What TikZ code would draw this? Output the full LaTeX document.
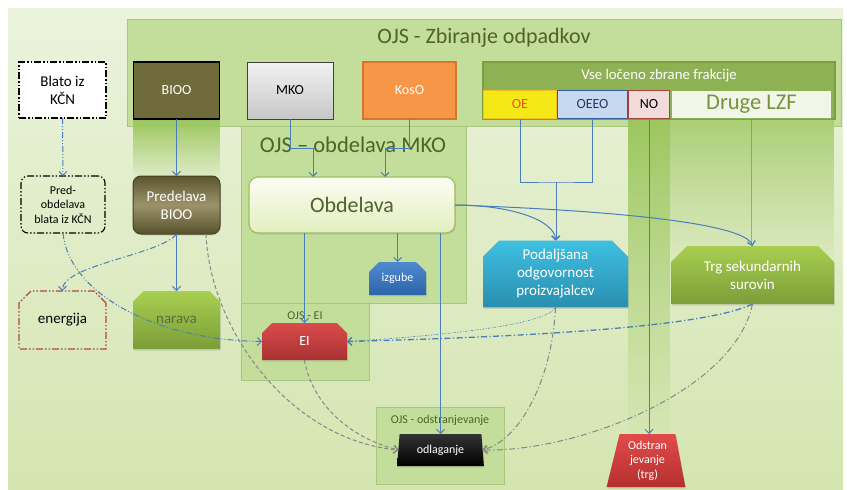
\documentclass[tikz,border=0pt]{standalone}
\usepackage{fontspec}
\setmainfont{Carlito}
\usetikzlibrary{arrows.meta,shapes.misc,shapes.geometric,fadings,calc,shadows}
\definecolor{bgtop}{HTML}{EBF3DC}
\definecolor{bgbot}{HTML}{D4E5B0}
\definecolor{ojsfill}{HTML}{C3DE9A}
\definecolor{ojsdraw}{HTML}{A8C77C}
\definecolor{ojstext}{HTML}{4F6228}
\definecolor{colgreen}{HTML}{9CC75E}
\definecolor{blueline}{HTML}{4A7EBB}
\definecolor{grayline}{HTML}{868686}
\definecolor{biooc}{HTML}{6F6B3A}
\definecolor{kosoc}{HTML}{F79646}
\definecolor{kosod}{HTML}{D7742F}
\definecolor{hdrgreen}{HTML}{8EB153}
\definecolor{hdrdraw}{HTML}{7E9E46}
\definecolor{oefill}{HTML}{F4E916}
\definecolor{oedraw}{HTML}{F6C21A}
\definecolor{oetext}{HTML}{E8581A}
\definecolor{oeeofill}{HTML}{C6D9F1}
\definecolor{oeeodraw}{HTML}{2F5F9E}
\definecolor{oeeotext}{HTML}{1F3B66}
\definecolor{nofill}{HTML}{F2DCDB}
\definecolor{nodraw}{HTML}{A8403E}
\definecolor{drugefill}{HTML}{F1F6E8}
\definecolor{drugetext}{HTML}{77933C}
\definecolor{predtop}{HTML}{5B572E}
\definecolor{predmid}{HTML}{9C926A}
\definecolor{predbot}{HTML}{57522C}
\definecolor{obdtop}{HTML}{FCFDF3}
\definecolor{obdbot}{HTML}{E3EEBF}
\definecolor{obddraw}{HTML}{9DBF5E}
\definecolor{izgtop}{HTML}{4F8AD0}
\definecolor{izgbot}{HTML}{2C64A8}
\definecolor{eitop}{HTML}{DA4B4B}
\definecolor{eibot}{HTML}{A93232}
\definecolor{podtop}{HTML}{3EC0E2}
\definecolor{podbot}{HTML}{2A8EAF}
\definecolor{trgtop}{HTML}{A8CF50}
\definecolor{trgbot}{HTML}{7C9D38}
\definecolor{naravatext}{HTML}{5C6B3C}
\definecolor{energd}{HTML}{B5443F}
\definecolor{odstop}{HTML}{E24B4B}
\definecolor{odsbot}{HTML}{B52F2F}
\tikzfading[name=fadedown, top color=transparent!0, bottom color=transparent!100]
\begin{document}
\begin{tikzpicture}[x=1pt,y=1pt,
  >={Straight Barb[length=4pt,width=8pt]},
  every node/.style={outer sep=0pt,inner sep=1pt,align=center},
  ojsbox/.style={rectangle,fill=ojsfill,draw=ojsdraw,line width=0.7pt},
  ojstitle/.style={text=ojstext},
  topbox/.style={rectangle,minimum width=86pt,minimum height=57pt},
  shd/.style={drop shadow={shadow xshift=0.8pt,shadow yshift=-1.5pt,opacity=0.22}},
  snip/.style={chamfered rectangle,chamfered rectangle corners={north west,north east},chamfered rectangle xsep=6pt,chamfered rectangle ysep=6pt},
  bline/.style={draw=blueline,line width=1pt},
  barrow/.style={bline,->},
  ddot/.style={draw=blueline,line width=1pt,dash pattern=on 6pt off 2pt on 1pt off 2pt on 1pt off 2pt},
  dashdot/.style={draw=blueline,line width=1pt,dash pattern=on 6pt off 2.5pt on 1.2pt off 2.5pt},
  gdash/.style={draw=grayline,line width=1pt,dash pattern=on 4pt off 2.5pt},
  gdashdot/.style={draw=grayline,line width=1pt,dash pattern=on 6pt off 2.5pt on 1.2pt off 2.5pt},
  ddborder/.style={line width=1.1pt,dash pattern=on 7pt off 2pt on 1.5pt off 2pt on 1.5pt off 2pt},
  f12/.style={font=\fontsize{12}{14.5}\selectfont},
  f14/.style={font=\fontsize{14}{17}\selectfont},
  f15/.style={font=\fontsize{15}{18}\selectfont},
  f22/.style={font=\fontsize{22}{26}\selectfont}]
\path[use as bounding box] (0,0) rectangle (847,-490);
\fill[white] (0,0) rectangle (847,-490);
\node[rectangle,top color=bgtop,bottom color=bgbot,minimum width=835pt,minimum height=482pt] (bg) at (425.5,-249) {};

% containers
\node[ojsbox,minimum width=714pt,minimum height=107pt] (zbir) at (484,-72.5) {};
\node[ojstitle,font=\fontsize{22}{26}\selectfont] (zbirT) at (484,-38) {OJS - Zbiranje odpadkov};
\fill[colgreen,path fading=fadedown] (133,-119) rectangle (220,-180);
\fill[colgreen,path fading=fadedown] (628,-119) rectangle (670,-440);
\fill[colgreen!85,path fading=fadedown] (670,-119) rectangle (834,-270);
\node[ojsbox,minimum width=225pt,minimum height=177pt] (obdbox) at (353.5,-214.5) {};
\node[ojstitle,font=\fontsize{22.5}{26}\selectfont] (obdT) at (353,-145) {OJS – obdelava MKO};
\node[ojsbox,minimum width=128pt,minimum height=77pt] (eibox) at (305,-341.5) {};
\node[ojstitle,f12] (eiT) at (305,-316) {OJS - EI};
\node[ojsbox,minimum width=128pt,minimum height=77pt] (odbox) at (440,-445.5) {};
\node[ojstitle,f12] (odT) at (440,-420) {OJS - odstranjevanje};

% top row
\node[topbox,fill=biooc,draw=black,line width=1.6pt,text=white,f14] (bioo) at (176.5,-90.5) {BIOO};
\node[topbox,top color=white!95!black,bottom color=black!22,draw=black!75,line width=0.8pt,f14] (mko) at (290,-90.5) {MKO};
\node[topbox,minimum width=93pt,fill=kosoc,draw=kosod,line width=1.2pt,text=white,f14] (koso) at (409.5,-90.5) {KosO};
\node[rectangle,fill=hdrgreen,draw=hdrdraw,line width=1.2pt,minimum width=352pt,minimum height=57pt] (vse) at (659,-90.5) {};
\node[text=white,font=\fontsize{14.8}{17}\selectfont] (vseT) at (659,-76) {Vse ločeno zbrane frakcije};
\node[rectangle,fill=oefill,draw=oedraw,line width=1.6pt,minimum width=73pt,minimum height=28pt,text=oetext,f14] (oe) at (520,-104.5) {OE};
\node[rectangle,fill=oeeofill,draw=oeeodraw,line width=1.6pt,minimum width=70pt,minimum height=28pt,text=oeeotext,f14] (oeeo) at (592.5,-104.5) {OEEO};
\node[rectangle,fill=nofill,draw=nodraw,line width=1.6pt,minimum width=41pt,minimum height=28pt,f14] (no) at (649,-104.5) {NO};
\node[rectangle,fill=drugefill,draw=hdrgreen,line width=1.6pt,minimum width=160pt,minimum height=28pt,text=drugetext,font=\fontsize{22.5}{26}\selectfont] (druge) at (751.5,-104.5) {Druge LZF};

% left column
\node[rectangle,fill=white,draw=black,ddborder,minimum width=87pt,minimum height=56pt,f15] (blato) at (62.5,-90) {Blato iz\\KČN};
\node[rectangle,rounded corners=7pt,draw=black,ddborder,minimum width=84pt,minimum height=57pt,f12] (pred) at (63,-204.5) {Pred-\\obdelava\\blata iz KČN};
\node[snip,draw=energd,ddborder,minimum width=87pt,minimum height=58pt,f15] (energ) at (62.5,-320) {energija};
\node[snip,shd,top color=trgtop,bottom color=trgbot,minimum width=87pt,minimum height=58pt,text=naravatext,f15] (narava) at (176.5,-320) {narava};
\node[rectangle,shd,rounded corners=8pt,top color=predtop,bottom color=predbot,middle color=predmid,draw=predbot!80!black,line width=1pt,minimum width=87pt,minimum height=58pt,text=white,f15] (predel) at (176.5,-205) {Predelava\\BIOO};

% centre
\node[rectangle,shd,rounded corners=9pt,top color=obdtop,bottom color=obdbot,draw=obddraw,line width=1.2pt,minimum width=206pt,minimum height=56pt,text=ojstext,f22] (obd) at (352,-205) {Obdelava};
\node[snip,shd,chamfered rectangle xsep=5pt,chamfered rectangle ysep=5pt,top color=izgtop,bottom color=izgbot,minimum width=57pt,minimum height=33pt,text=white,f12] (izg) at (397.5,-278.5) {izgube};
\node[snip,shd,chamfered rectangle xsep=5pt,chamfered rectangle ysep=5pt,top color=eitop,bottom color=eibot,minimum width=85pt,minimum height=37pt,text=white,f14] (ei) at (304.5,-341.5) {EI};
\node[snip,shd,chamfered rectangle xsep=8pt,chamfered rectangle ysep=8pt,top color=podtop,bottom color=podbot,minimum width=145pt,minimum height=58pt,text=white,f15] (pod) at (555.5,-274) {Podaljšana\\odgovornost\\proizvajalcev};
\node[snip,shd,chamfered rectangle xsep=8pt,chamfered rectangle ysep=8pt,top color=trgtop,bottom color=trgbot,minimum width=163pt,minimum height=58pt,text=white,f15] (trg) at (752.5,-275) {Trg sekundarnih\\surovin};
\node[trapezium,shd,trapezium left angle=83,trapezium right angle=83,trapezium stretches=true,top color=black!80,bottom color=black,minimum width=87pt,minimum height=32pt,text=white,f12] (odl) at (440.5,-450) {odlaganje};
\node[trapezium,shd,trapezium left angle=77,trapezium right angle=80,trapezium stretches=true,top color=odstop,bottom color=odsbot,minimum width=79pt,minimum height=53pt,text=white,f12] (odst) at (647.5,-460.5) {Odstran\\jevanje\\(trg)};

% connectors
\draw[barrow] (bioo.south) -- (predel.north);
\draw[barrow] (predel.south) -- (narava.north);
\coordinate (mk1) at (313,-148);
\draw[barrow] (mko.south) |- (mk1) -- (mk1 |- obd.north);
\coordinate (ko1) at (385,-148);
\draw[barrow] (koso.south) |- (ko1) -- (ko1 |- obd.north);
\coordinate (oj) at (556,-182);
\draw[bline] (oe.south) |- (oj) -| (oeeo.south);
\draw[barrow] (oj) -- (oj |- pod.north);
\draw[barrow] (obd.east) .. controls (510,-205) and (555,-220) .. (pod.north);
\draw[barrow] (obd.east) .. controls (600,-210) and (745,-222) .. (trg.north);
\draw[barrow] (obd.south -| ei.north) -- (ei.north);
\draw[barrow] (obd.south -| izg.north) -- (izg.north);
\draw[barrow] (obd.south -| odl.north) -- (odl.north);
\draw[barrow] (no.south) -- (no.south |- odst.north);
\draw[barrow,draw opacity=0.55] (druge.south) -- (druge.south |- trg.north);

\draw[ddot,->] (blato.south) -- (pred.north);
\draw[ddot,->] (pred.south) .. controls (68,-290) and (150,-340) .. (ei.west);
\draw[dashdot,->] (predel.south) .. controls (160,-255) and (62,-265) .. (energ.north);
\draw[gdash,->] ($(predel.south east)+(-14,0)$) .. controls (210,-330) and (290,-440) .. (odl.west);
\draw[gdash,->] (ei.south) .. controls (310,-395) and (340,-435) .. (odl.west);
\draw[gdashdot,->] (pod.south) .. controls (552,-380) and (520,-440) .. (odl.east);
\draw[gdashdot,->] (trg.south) .. controls (735,-390) and (580,-452) .. (odl.east);
\draw[dashdot,line width=1.3pt,->] (trg.south) .. controls (700,-330) and (480,-338) .. (ei.east);
\draw[draw=blueline,line width=0.6pt,dash pattern=on 2pt off 1.5pt on 0.8pt off 1.5pt,->] (pod.south) .. controls (545,-325) and (450,-335) .. (ei.east);
\end{tikzpicture}
\end{document}
